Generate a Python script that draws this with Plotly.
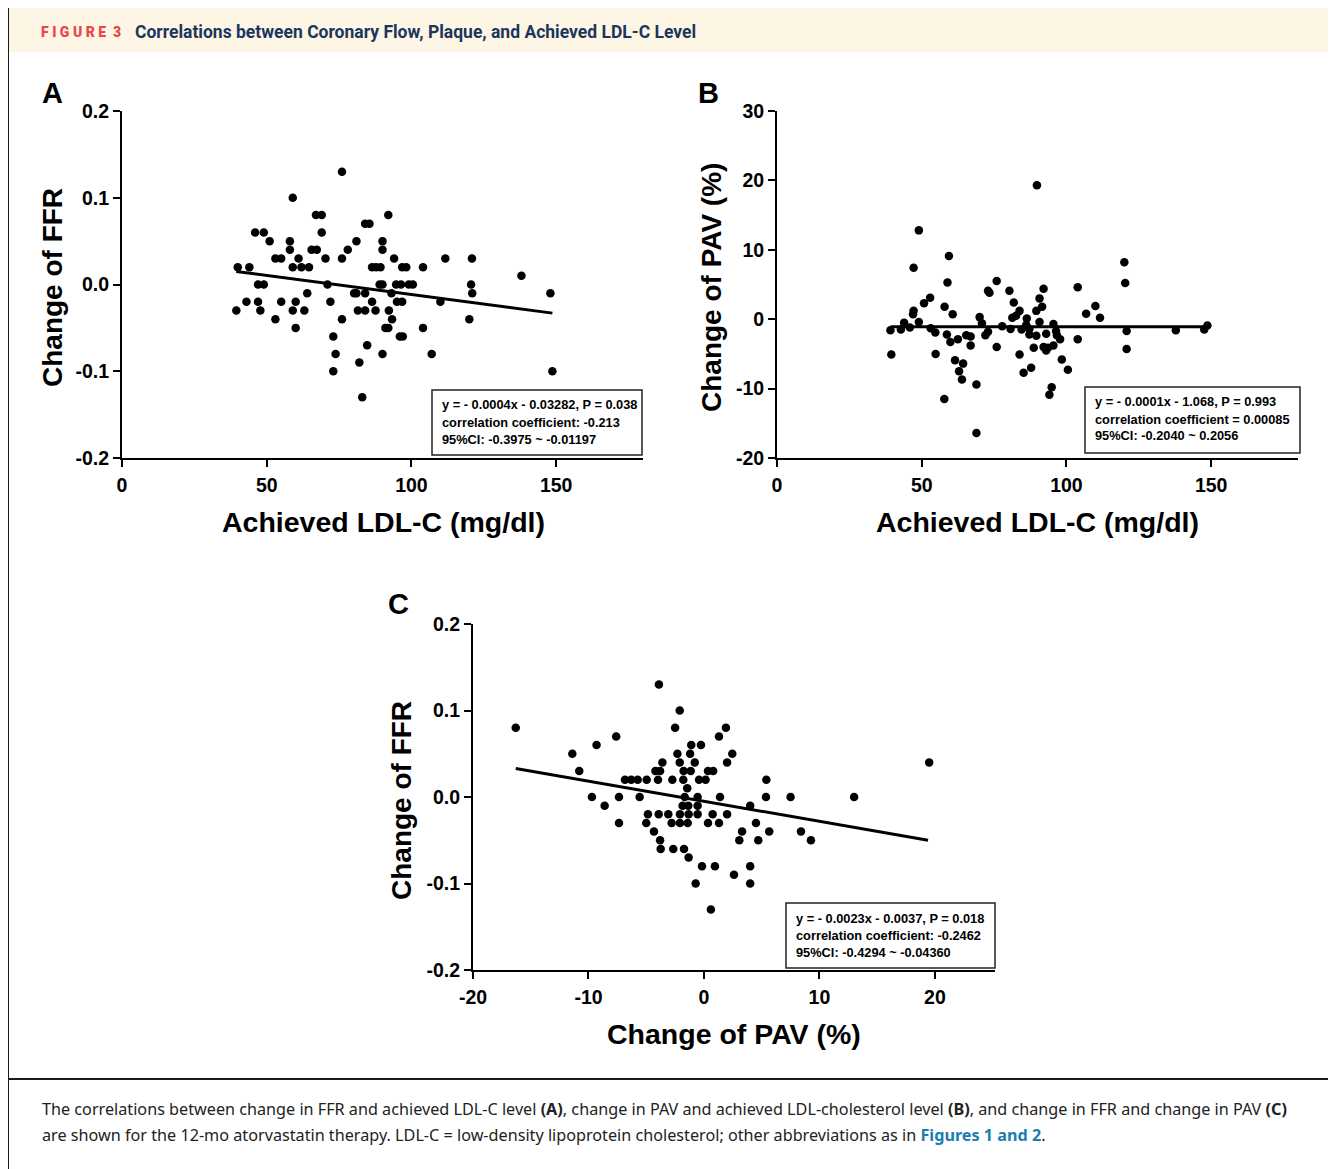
import plotly.graph_objects as go

# ---------------- data ----------------
# Panel A: achieved LDL-C (mg/dl) vs change of FFR
a_ldl = [76, 59, 67, 69, 92, 84, 85.5, 46, 49, 69, 51, 58, 81, 90,
         58, 65.5, 67.3, 78, 90, 53, 55, 61, 70.3, 76, 94, 111.7, 120.9,
         40, 44, 59, 62, 64.6, 86.4, 87.8, 89.3, 96.8, 98.2, 104, 138,
         47, 49, 71, 89, 90, 94.7, 96.4, 99.1, 100.5, 120.6,
         64, 80.2, 81, 84, 93.1, 121, 148,
         43, 47, 55, 60, 72, 86.4, 95, 96.8, 110,
         39.5, 47.8, 59, 63, 81.5, 84, 87.6, 92.2,
         53, 76, 93.3, 120, 60, 91, 92, 104, 73, 96, 97, 84.7,
         73.8, 90, 107, 82, 73, 148.7, 83]
a_ffr = [0.13, 0.10, 0.08, 0.08, 0.08, 0.07, 0.07, 0.06, 0.06, 0.06, 0.05, 0.05, 0.05, 0.05,
         0.04, 0.04, 0.04, 0.04, 0.04, 0.03, 0.03, 0.03, 0.03, 0.03, 0.03, 0.03, 0.03,
         0.02, 0.02, 0.02, 0.02, 0.02, 0.02, 0.02, 0.02, 0.02, 0.02, 0.02, 0.01,
         0.0, 0.0, 0.0, 0.0, 0.0, 0.0, 0.0, 0.0, 0.0, 0.0,
         -0.01, -0.01, -0.01, -0.01, -0.01, -0.01, -0.01,
         -0.02, -0.02, -0.02, -0.02, -0.02, -0.02, -0.02, -0.02, -0.02,
         -0.03, -0.03, -0.03, -0.03, -0.03, -0.03, -0.03, -0.03,
         -0.04, -0.04, -0.04, -0.04, -0.05, -0.05, -0.05, -0.05, -0.06, -0.06, -0.06, -0.07,
         -0.08, -0.08, -0.08, -0.09, -0.10, -0.10, -0.13]
a_fit_x = [39.5, 148.7]
a_fit_y = [0.015, -0.033]

# Panel B: achieved LDL-C (mg/dl) vs change of PAV (%)
b_ldl = [89.8, 49.0, 59.4, 47.2, 58.9, 75.9, 72.9, 73.4, 80.3, 92.1, 52.9, 50.8, 81.8, 90.7,
         57.9, 91.6, 47.2, 47.0, 60.7, 83.8, 82.6, 81.3, 89.6, 70.0, 86.3, 43.9, 49.0, 39.2,
         42.8, 45.9, 53.1, 54.7, 58.7, 70.8, 77.8, 80.7, 84.5, 86.1, 87.2, 72.0, 72.9, 65.4,
         66.9, 59.9, 62.5, 66.9, 87.2, 89.6, 93.0, 75.9, 88.7, 92.1, 93.0, 39.5, 54.8, 83.8,
         61.5, 64.3, 87.8, 85.2, 62.9, 63.9, 68.9, 57.8, 68.9,
         120.0, 120.3, 103.9, 110.0, 106.8, 111.6, 90.7, 95.5, 96.4, 96.7, 97.8, 103.9,
         120.8, 137.8, 147.6, 148.7, 120.8, 93.6, 95.5, 98.4, 100.5, 94.9, 94.1]
b_pav = [19.3, 12.8, 9.1, 7.4, 5.3, 5.5, 4.1, 3.8, 4.1, 4.4, 3.1, 2.3, 2.4, 3.0,
         1.8, 1.8, 1.2, 0.7, 0.7, 1.2, 0.5, 0.2, 1.2, 0.3, 0.1, -0.5, -0.4, -1.6,
         -1.5, -1.2, -1.3, -1.9, -2.2, -0.6, -1.0, -1.4, -1.5, -0.8, -1.4, -2.3, -1.8, -2.3,
         -2.5, -3.3, -2.9, -3.8, -2.2, -2.4, -2.1, -4.0, -4.1, -4.0, -4.5, -5.1, -5.0, -5.1,
         -5.9, -6.4, -7.0, -7.7, -7.5, -8.7, -9.4, -11.5, -16.4,
         8.2, 5.2, 4.6, 1.9, 0.8, 0.2, -0.4, -0.7, -1.7, -2.3, -2.9, -2.9,
         -1.7, -1.6, -1.5, -0.9, -4.3, -4.1, -3.8, -5.8, -7.3, -9.8, -10.9]
b_fit_x = [39.2, 148.7]
b_fit_y = [-1.07, -1.08]

# Panel C: change of PAV (%) vs change of FFR
c_pav = [-3.9, -16.3, -2.1, -2.5, 1.9, -7.6, 1.3, -11.4, -9.3, -1.1, -0.26, -2.3, -1.2, 2.45,
         -3.6, -2.1, -0.8, 2.0, -10.8, -4.2, -3.8, -1.76, -1.15, 0.35, 0.8,
         -6.84, -6.3, -5.74, -4.96, -3.98, -2.74, -1.79, -0.43, 0.14, -1.45,
         -9.7, -7.36, -5.57, -1.67, -0.55, 1.39, -8.6, -1.85, -1.36, -0.55,
         -4.85, -3.92, -3.09, -2.08, -1.33, -0.55, 0.75, 2.0,
         -7.36, -5.0, -2.8, -2.08, -1.41, 0.35, 1.3, -4.33, 3.3, -3.8, 3.06,
         -3.75, -2.66, -1.73, -1.33, -0.17, 0.95, 2.6, -0.72, 0.6, 4.0, 4.0, 4.0,
         19.5, 5.4, 5.37, 7.5, 13.0, 4.5, 5.65, 8.4, 4.7, 9.26]
c_ffr = [0.13, 0.08, 0.10, 0.08, 0.08, 0.07, 0.07, 0.05, 0.06, 0.06, 0.06, 0.05, 0.05, 0.05,
         0.04, 0.04, 0.04, 0.04, 0.03, 0.03, 0.03, 0.03, 0.03, 0.03, 0.03,
         0.02, 0.02, 0.02, 0.02, 0.02, 0.02, 0.02, 0.02, 0.02, 0.01,
         0.0, 0.0, 0.0, 0.0, 0.0, 0.0, -0.01, -0.01, -0.01, -0.01,
         -0.02, -0.02, -0.02, -0.02, -0.02, -0.02, -0.02, -0.02,
         -0.03, -0.03, -0.03, -0.03, -0.03, -0.03, -0.03, -0.04, -0.04, -0.05, -0.05,
         -0.06, -0.06, -0.06, -0.07, -0.08, -0.08, -0.09, -0.10, -0.13, -0.08, -0.10, -0.01,
         0.04, 0.02, 0.0, 0.0, 0.0, -0.03, -0.04, -0.04, -0.05, -0.05]
c_fit_x = [-16.3, 19.4]
c_fit_y = [0.033, -0.050]

ffr_ticks = [-0.2, -0.1, 0.0, 0.1, 0.2]
ffr_ticklabels = ["-0.2", "-0.1", "0.0", "0.1", "0.2"]
ldl_ticks = [0, 50, 100, 150]
ldl_ticklabels = ["0", "50", "100", "150"]
pav_y_ticks = [-20, -10, 0, 10, 20, 30]
pav_y_ticklabels = ["-20", "-10", "0", "10", "20", "30"]
pav_x_ticks = [-20, -10, 0, 10, 20]
pav_x_ticklabels = ["-20", "-10", "0", "10", "20"]

stats_a = ["y = - 0.0004x - 0.03282, P = 0.038", "correlation coefficient: -0.213",
           "95%CI: -0.3975 ~ -0.01197"]
stats_b = ["y = - 0.0001x - 1.068, P = 0.993", "correlation coefficient = 0.00085",
           "95%CI: -0.2040 ~ 0.2056"]
stats_c = ["y = - 0.0023x - 0.0037, P = 0.018", "correlation coefficient: -0.2462",
           "95%CI: -0.4294 ~ -0.04360"]

# ---------------- layout helpers ----------------
W, H = 1336, 1169
OFF = 8  # page body margin
def fx(p):
    return (p - OFF) / W
def fy(p):
    return 1 - (p - OFF) / H

AX_FONT = "Liberation Sans, Arial, sans-serif"
CAP_FONT = "Noto Sans, Open Sans, sans-serif"

fig = go.Figure()

def scatter(x, y, xa, ya):
    fig.add_trace(go.Scatter(x=x, y=y, mode="markers", xaxis=xa, yaxis=ya,
                             marker=dict(color="black", size=8.5), showlegend=False,
                             hoverinfo="x+y"))

def fit(x, y, xa, ya):
    fig.add_trace(go.Scatter(x=x, y=y, mode="lines", xaxis=xa, yaxis=ya,
                             line=dict(color="black", width=3), showlegend=False))

scatter(a_ldl, a_ffr, "x", "y"); fit(a_fit_x, a_fit_y, "x", "y")
scatter(b_ldl, b_pav, "x2", "y2"); fit(b_fit_x, b_fit_y, "x2", "y2")
scatter(c_pav, c_ffr, "x3", "y3"); fit(c_fit_x, c_fit_y, "x3", "y3")

tickfont = dict(family=AX_FONT, size=19.5, color="black", weight="bold")
def axis_common(**kw):
    d = dict(showgrid=False, zeroline=False, showline=True, linecolor="black", linewidth=2,
             ticks="outside", ticklen=7, tickwidth=2, tickcolor="black", tickfont=tickfont,
             fixedrange=True)
    d.update(kw)
    return d

top_ab, bot_ab = 111, 458
XS, YS = 2, 0
fig.update_layout(
    width=W, height=H, margin=dict(l=0, r=0, t=0, b=0, autoexpand=False),
    paper_bgcolor="white", plot_bgcolor="rgba(0,0,0,0)",
    xaxis=axis_common(domain=[fx(122), fx(643)], range=[0, 180], tickvals=ldl_ticks,
                      ticktext=ldl_ticklabels, anchor="y", ticklabelstandoff=XS),
    yaxis=axis_common(domain=[fy(bot_ab), fy(top_ab)], range=[-0.2, 0.2], tickvals=ffr_ticks,
                      ticktext=ffr_ticklabels, anchor="x", ticklabelstandoff=YS),
    xaxis2=axis_common(domain=[fx(777), fx(1298)], range=[0, 180], tickvals=ldl_ticks,
                       ticktext=ldl_ticklabels, anchor="y2", ticklabelstandoff=XS),
    yaxis2=axis_common(domain=[fy(bot_ab), fy(top_ab)], range=[-20, 30], tickvals=pav_y_ticks,
                       ticktext=pav_y_ticklabels, anchor="x2", ticklabelstandoff=YS),
    xaxis3=axis_common(domain=[fx(473), fx(995)], range=[-20, 25.2], tickvals=pav_x_ticks,
                       ticktext=pav_x_ticklabels, anchor="y3", ticklabelstandoff=XS),
    yaxis3=axis_common(domain=[fy(970), fy(624)], range=[-0.2, 0.2], tickvals=ffr_ticks,
                       ticktext=ffr_ticklabels, anchor="x3", ticklabelstandoff=YS),
)

shapes = []
# outer frame, header band, caption separator
shapes.append(dict(type="rect", xref="paper", yref="paper", x0=fx(9), x1=fx(1329),
                   y0=fy(7), y1=fy(52), fillcolor="#FEF6E4", line=dict(width=0), layer="below"))
shapes.append(dict(type="rect", xref="paper", yref="paper", x0=fx(8), x1=fx(1330),
                   y0=fy(6), y1=fy(1190), line=dict(color="#1a1a1a", width=2)))
shapes.append(dict(type="line", xref="paper", yref="paper", x0=fx(8), x1=fx(1330),
                   y0=fy(1079), y1=fy(1079), line=dict(color="#1a1a1a", width=2)))

annotations = []
def text(x, y, s, size, color="black", family=AX_FONT, weight="bold", xanchor="left",
         yanchor="middle", angle=0):
    annotations.append(dict(x=fx(x), y=fy(y), xref="paper", yref="paper", text=s,
                            showarrow=False, xanchor=xanchor, yanchor=yanchor, textangle=angle,
                            font=dict(family=family, size=size, color=color, weight=weight)))

# header
text(39, 32, "F I G U R E  3", 14, color="#E9474F", family="Roboto, Noto Sans, sans-serif",
     weight=900)
text(133, 32, "Correlations between Coronary Flow, Plaque, and Achieved LDL-C Level", 17.5,
     color="#1C355E", family="Roboto, Noto Sans, sans-serif")

# panel letters
text(52, 93, "A", 29, xanchor="center")
text(708, 93, "B", 29, xanchor="center")
text(398, 604, "C", 29, xanchor="center")

# axis titles
text(52, 288, "Change of FFR", 28, xanchor="center", angle=-90)
text(383, 522, "Achieved LDL-C (mg/dl)", 28.5, xanchor="center")
text(711, 288, "Change of PAV (%)", 28, xanchor="center", angle=-90)
text(1037, 522, "Achieved LDL-C (mg/dl)", 28.5, xanchor="center")
text(401, 800, "Change of FFR", 28, xanchor="center", angle=-90)
text(734, 1034, "Change of PAV (%)", 28.5, xanchor="center")

# stats boxes
def stat_box(x0, y0, x1, y1, lines):
    shapes.append(dict(type="rect", xref="paper", yref="paper", x0=fx(x0), x1=fx(x1),
                       y0=fy(y1), y1=fy(y0), fillcolor="white",
                       line=dict(color="#222", width=1.5)))
    for i, s in enumerate(lines):
        text(x0 + 8, y0 + 15 + 17 * i, s, 12.8, family=AX_FONT)

stat_box(432, 390, 642, 455, stats_a)
stat_box(1085, 387, 1300, 453, stats_b)
stat_box(786, 903, 995, 968, stats_c)

# caption
cap1 = ("The correlations between change in FFR and achieved LDL-C level <b>(A)</b>, change in PAV "
        "and achieved LDL-cholesterol level <b>(B)</b>, and change in FFR and change in PAV <b>(C)</b>")
cap2 = ("are shown for the 12-mo atorvastatin therapy. LDL-C = low-density lipoprotein cholesterol; "
        "other abbreviations as in <b><span style='color:#1B7DB0'>Figures 1 and 2</span></b>.")
text(40, 1109, cap1, 16.2, family=CAP_FONT, weight="normal", color="#222")
text(40, 1135, cap2, 16.2, family=CAP_FONT, weight="normal", color="#222")

fig.update_layout(shapes=shapes, annotations=annotations)
fig.write_html("out.html")
